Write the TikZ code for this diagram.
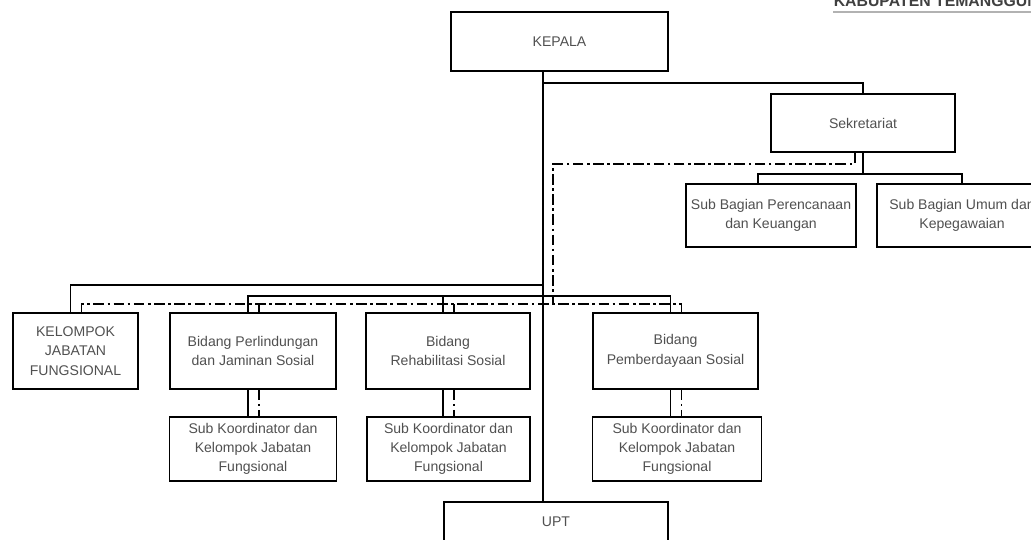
\documentclass[tikz,border=0pt]{standalone}
\usepackage{fontspec}
\setmainfont{Liberation Sans}
\usepackage{xcolor}
\definecolor{txtgray}{HTML}{505050}
\tikzset{box/.style={rectangle,draw,line width=0.9pt,align=center,inner sep=2pt,
    font=\fontsize{8}{11}\selectfont,text=txtgray},
  dd/.style={line width=0.9pt,dash pattern=on 6pt off 2pt on 1.5pt off 2pt}}

\begin{document}
\begin{tikzpicture}[x=0.02cm,y=-0.02cm,line width=0.9pt]
    \useasboundingbox (0,0) rectangle (1031,540);
    \clip (0,0) rectangle (1031,540);

    \node[font=\fontsize{9}{9}\selectfont\bfseries,text=black!75,anchor=base west,inner sep=0pt] (kab) at (833,7) {KABUPATEN TEMANGGUNG};
    \draw[black!30,line width=1.3pt] (833,12) -- (1031,12);

    \node[box,minimum width=4.34cm,minimum height=1.18cm] (kepala) at (559.5,41.5) {KEPALA};
    \node[box,minimum width=3.68cm,minimum height=1.16cm] (sekr) at (863,123) {Sekretariat};
    \node[box,minimum width=3.4cm,minimum height=1.26cm] (sbpk) at (771,215.5) {Sub Bagian Perencanaan\\dan Keuangan};
    \node[box,minimum width=3.4cm,minimum height=1.26cm] (sbuk) at (962,215.5) {Sub Bagian Umum dan\\Kepegawaian};

    \node[box,minimum width=2.5cm,minimum height=1.52cm] (kjf) at (75.5,351) {KELOMPOK\\JABATAN\\FUNGSIONAL};
    \node[box,minimum width=3.32cm,minimum height=1.52cm] (bpjs) at (253,351) {Bidang Perlindungan\\dan Jaminan Sosial};
    \node[box,minimum width=3.28cm,minimum height=1.52cm] (brs) at (448,351) {Bidang\\Rehabilitasi Sosial};
    \node[box,minimum width=3.3cm,minimum height=1.52cm] (bps) at (675.5,351) {Bidang\\Pemberdayaan Sosial};

    \node[box,minimum width=3.34cm,minimum height=1.28cm] (sk1) at (253,449) {Sub Koordinator dan\\Kelompok Jabatan\\Fungsional};
    \node[box,minimum width=3.26cm,minimum height=1.28cm] (sk2) at (448.5,449) {Sub Koordinator dan\\Kelompok Jabatan\\Fungsional};
    \node[box,minimum width=3.38cm,minimum height=1.28cm] (sk3) at (677,449) {Sub Koordinator dan\\Kelompok Jabatan\\Fungsional};

    \node[box,minimum width=4.48cm,minimum height=0.8cm] (upt) at (556,522) {UPT};

    % garis komando
    \coordinate (trk) at (543,0);
    \coordinate (sbr) at (543,83);
    \coordinate (sbus) at (863,174);
    \coordinate (bus1) at (543,285);
    \coordinate (bus2) at (543,296);
    \draw (kepala.south -| trk) -- (upt.north -| trk);
    \draw (sbr) -| (sekr.north);
    \draw (sekr.south) -- (sbus);
    \draw ([xshift=-0.26cm]sbpk.north) |- (sbus) -| (sbuk.north);
    \draw (bus1) -| ([xshift=-0.1cm]kjf.north);
    \draw ([xshift=-0.1cm]bpjs.north) |- (bus2) -| ([xshift=-0.1cm]bps.north);
    \draw ([xshift=-0.1cm]brs.north) -- ([xshift=-0.1cm]brs.north |- bus2);
    \draw ([xshift=-0.1cm]bpjs.south) -- ([xshift=-0.1cm]bpjs.south |- sk1.north);
    \draw ([xshift=-0.1cm]brs.south) -- ([xshift=-0.1cm]brs.south |- sk2.north);
    \draw ([xshift=-0.1cm]bps.south) -- ([xshift=-0.1cm]bps.south |- sk3.north);

    % garis koordinasi
    \coordinate (ddtop) at (553,164);
    \coordinate (ddbus) at (553,304);
    \draw[dd] ([xshift=-0.16cm]sekr.south) |- (ddtop) -- (ddbus);
    \draw[dd] ([xshift=0.12cm]kjf.north) |- (ddbus) -| ([xshift=0.12cm]bps.north);
    \draw[dd] ([xshift=0.12cm]bpjs.north) -- ([xshift=0.12cm]bpjs.north |- ddbus);
    \draw[dd] ([xshift=0.12cm]brs.north) -- ([xshift=0.12cm]brs.north |- ddbus);
    \draw[dd] ([xshift=0.12cm]bpjs.south) -- ([xshift=0.12cm]bpjs.south |- sk1.north);
    \draw[dd] ([xshift=0.12cm]brs.south) -- ([xshift=0.12cm]brs.south |- sk2.north);
    \draw[dd] ([xshift=0.12cm]bps.south) -- ([xshift=0.12cm]bps.south |- sk3.north);
\end{tikzpicture}
\end{document}
